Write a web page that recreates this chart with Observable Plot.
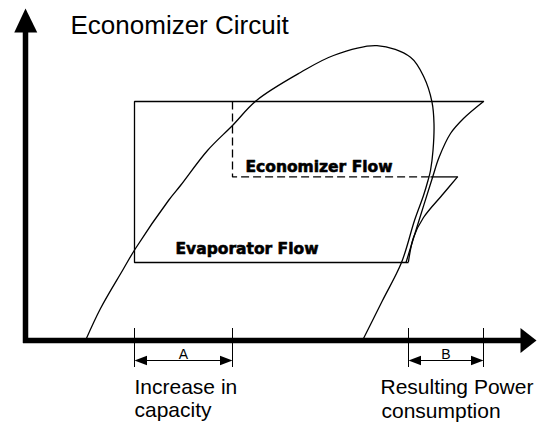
<!DOCTYPE html>
<html><head><meta charset="utf-8">
<script src="https://cdn.jsdelivr.net/npm/d3@7"></script>
<script src="https://cdn.jsdelivr.net/npm/@observablehq/plot@0.6"></script>
<style>html,body{margin:0;padding:0;background:#fff}svg{display:block}</style>
</head><body><div id="chart"></div>
<script>
// Schematic pressure–enthalpy diagram (arbitrary units: h = enthalpy, p = pressure)
const title = "Economizer Circuit";

// Saturation dome
const domeH = [12, 15, 19.4, 22, 28.6, 31, 36.4, 41.4, 46.2, 55, 61.6, 70.3, 77, 79.7, 81.3, 81.7, 81.5, 81, 80.5, 79.6, 77.8, 75.2, 71.4, 67.4];
const domeP = [0, 8, 17.5, 23, 35, 38.75, 47.5, 53.75, 60, 67, 71.25, 73.7, 70.8, 65.8, 59.6, 54.2, 47.5, 42.5, 40, 36.25, 30, 19.5, 10, 0];

// Cycle state values
const pHigh = 59.75, pEco = 40.9, pLow = 19.5;
const hLiquid = 21.8, hEcoLiquid = 41.4, hEvapOut = 76.6, hMix = 81, hEcoOut = 86.4, hDischarge = 91.6;

// Compression paths
const comp1H = [76.1, 78.7, 81.4, 82.7, 85, 87.6, 91.6];
const comp1P = [19.5, 30, 40.75, 45.75, 51.75, 55.5, 59.75];
const comp2H = [76.6, 77.6, 79.6, 83.6, 86.4];
const comp2P = [19.75, 25.75, 30.75, 36.75, 40.9];

// Labels
const flowLabels = ["Economizer Flow", "Evaporator Flow"];
const flowLabelH = [44, 30];
const flowLabelP = [42.25, 21.75];
const dimLabels = ["A", "B"];
const noteLines = ["Increase in", "capacity", "Resulting Power", "consumption"];
const noteH = [21.8, 21.8, 71, 71.2];
const noteP = [-13.25, -19.1, -13.25, -19.25];

// Axis extents
const xAxisEnd = 99, xAxisTip = 102.2, yAxisEnd = 77, yAxisTip = 83;
const dimP = -5, dimTickTop = 3, dimTickBottom = -6.75;

const pts = (H, P) => H.map((h, i) => ({h, p: P[i]}));
const FONT = "'Liberation Sans', Arial, sans-serif";

const cycleSolid = pts([hDischarge, hLiquid, hLiquid, hEvapOut], [pHigh, pHigh, pLow, pLow]);
const ecoDashed = pts([hEcoLiquid, hEcoLiquid, hMix], [pHigh, pEco, pEco]);
const ecoSolid = pts([hMix, hEcoOut], [pEco, pEco]);

const dims = [
  {a: hLiquid, b: hEcoLiquid, label: dimLabels[0]},
  {a: hEvapOut, b: hDischarge, label: dimLabels[1]}
];
const headL = 2.5, headW = 1.2;
const dimHeads = dims.flatMap((d, i) => [
  {h: d.a, p: dimP, k: "l" + i}, {h: d.a + headL, p: dimP + headW, k: "l" + i}, {h: d.a + headL, p: dimP - headW, k: "l" + i},
  {h: d.b, p: dimP, k: "r" + i}, {h: d.b - headL, p: dimP + headW, k: "r" + i}, {h: d.b - headL, p: dimP - headW, k: "r" + i}
]);
const axisHeads = [
  {h: -2.25, p: yAxisEnd, k: "y"}, {h: 0, p: yAxisTip, k: "y"}, {h: 2.35, p: yAxisEnd, k: "y"},
  {h: xAxisEnd, p: 3.1, k: "x"}, {h: xAxisTip, p: 0, k: "x"}, {h: xAxisEnd, p: -3.1, k: "x"}
];

const chart = Plot.plot({
  width: 544, height: 422,
  margin: 0,
  x: {domain: [-5, 103.8], range: [0, 544], axis: null},
  y: {domain: [-20.5, 85], range: [422, 0], axis: null},
  style: {background: "#fff", color: "#000"},
  marks: [
    // dome
    Plot.line(pts(domeH, domeP), {x: "h", y: "p", curve: "catmull-rom", stroke: "#000", strokeWidth: 1.3}),
    // cycle
    Plot.line(cycleSolid, {x: "h", y: "p", stroke: "#000", strokeWidth: 1.3, strokeLinejoin: "miter", strokeLinecap: "butt"}),
    Plot.line(ecoDashed, {x: "h", y: "p", stroke: "#000", strokeWidth: 1.3, strokeDasharray: "8,4", strokeLinejoin: "miter", strokeLinecap: "butt"}),
    Plot.line(ecoSolid, {x: "h", y: "p", stroke: "#000", strokeWidth: 1.3, strokeLinecap: "butt"}),
    Plot.line(pts(comp1H, comp1P), {x: "h", y: "p", curve: "catmull-rom", stroke: "#000", strokeWidth: 1.3}),
    Plot.line(pts(comp2H, comp2P), {x: "h", y: "p", curve: "catmull-rom", stroke: "#000", strokeWidth: 1.3}),
    // axes
    Plot.line(pts([0, 0], [-0.6, yAxisEnd + 0.5]), {x: "h", y: "p", stroke: "#000", strokeWidth: 5.5, strokeLinecap: "butt"}),
    Plot.line(pts([-0.5, xAxisEnd + 0.3], [0, 0]), {x: "h", y: "p", stroke: "#000", strokeWidth: 5.5, strokeLinecap: "butt"}),
    Plot.line(axisHeads, {x: "h", y: "p", z: "k", fill: "#000", stroke: "none"}),
    // dimension markers
    Plot.ruleX(dims.flatMap(d => [d.a, d.b]), {y1: dimTickTop, y2: dimTickBottom, stroke: "#000", strokeWidth: 1}),
    Plot.link(dims, {x1: d => d.a + headL, x2: d => d.b - headL, y1: dimP, y2: dimP, stroke: "#000", strokeWidth: 1.2}),
    Plot.line(dimHeads, {x: "h", y: "p", z: "k", fill: "#000", stroke: "none"}),
    Plot.text(dims, {x: d => (d.a + d.b) / 2, y: dimP + 0.5, text: "label", fontSize: 14, fontFamily: FONT, lineAnchor: "bottom", textAnchor: "middle", fill: "#000"}),
    // texts
    Plot.text([title], {x: 9, y: 76.75, text: d => d, fontSize: 26, fontFamily: FONT, textAnchor: "start", lineAnchor: "bottom", fill: "#000"}),
    Plot.text(flowLabels, {x: (d, i) => flowLabelH[i], y: (d, i) => flowLabelP[i], text: d => d, fontSize: 15.5, fontWeight: "bold", fontFamily: "'DejaVu Sans', sans-serif", textAnchor: "start", lineAnchor: "bottom", fill: "#000", stroke: "#000", strokeWidth: 0.6}),
    Plot.text(noteLines, {x: (d, i) => noteH[i], y: (d, i) => noteP[i], text: d => d, fontSize: 21, fontFamily: FONT, textAnchor: "start", lineAnchor: "bottom", fill: "#000"})
  ]
});
document.getElementById("chart").appendChild(chart);
</script></body></html>
